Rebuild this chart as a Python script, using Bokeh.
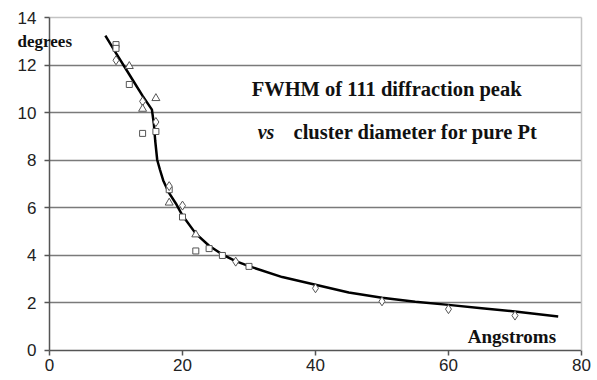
from bokeh.plotting import figure
from bokeh.models import Label, FixedTicker, Range1d, LinearAxis, BoxAnnotation
from bokeh.embed import file_html
from bokeh.resources import INLINE

# Measured FWHM (degrees) vs cluster diameter (Angstroms)
sq_x = [10, 10, 12, 14, 16, 18, 20, 22, 24, 26, 30]
sq_y = [12.86, 12.7, 11.18, 9.12, 9.2, 6.75, 5.6, 4.17, 4.27, 3.98, 3.52]
di_x = [10, 14, 16, 18, 20, 28, 40, 50, 60, 70]
di_y = [12.2, 10.47, 9.6, 6.9, 6.08, 3.72, 2.6, 2.05, 1.72, 1.45]
tr_x = [12, 14, 16, 18, 22]
tr_y = [11.95, 10.15, 10.6, 6.2, 4.86]

# Fitted trend curve
fit_x = [8.4, 10, 12, 14, 15.4, 15.7, 15.9, 16.2, 16.6, 17.1, 17.9, 19, 20, 22, 24, 26, 28, 30, 35, 40, 45, 50, 55, 60, 65, 70, 76.5]
fit_y = [13.24, 12.5, 11.6, 10.7, 10.12, 9.5, 8.8, 8.0, 7.6, 7.14, 6.65, 6.17, 5.66, 4.9, 4.39, 4.02, 3.74, 3.53, 3.07, 2.75, 2.42, 2.2, 2.03, 1.9, 1.76, 1.62, 1.41]

y_ticks = [0, 2, 4, 6, 8, 10, 12, 14]
x_ticks = [0, 20, 40, 60, 80]
grid_ticks = [2, 4, 6, 8, 10, 12]

X0, X1, Y0, Y1 = 0, 80, 0, 14

# The frame covers the whole canvas so that no text is clipped; the axes are
# pinned at the data limits with fixed_location.
p = figure(width=597, height=380, output_backend="svg", toolbar_location=None,
           x_range=Range1d(-7.37, 82.41), y_range=Range1d(-1.284, 14.716),
           x_axis_location=None, y_axis_location=None,
           min_border=0, min_border_left=0, min_border_right=0,
           min_border_top=0, min_border_bottom=0)
p.background_fill_color = "white"
p.border_fill_color = "white"
p.outline_line_color = None

p.xgrid.visible = False
yg = p.ygrid[0]
yg.ticker = FixedTicker(ticks=grid_ticks)
yg.grid_line_color = "#7a7a7a"
yg.grid_line_width = 1.5
if "cross_bounds" in yg.properties():
    yg.cross_bounds = (X0, X1)
else:
    p.add_layout(BoxAnnotation(right=X0, fill_color="white", fill_alpha=1, line_color=None, level="underlay"))
    p.add_layout(BoxAnnotation(left=X1, fill_color="white", fill_alpha=1, line_color=None, level="underlay"))

def style(ax, ticks):
    ax.ticker = FixedTicker(ticks=ticks)
    ax.axis_line_color = "#555555"
    ax.axis_line_width = 1.5
    ax.major_tick_line_color = "#555555"
    ax.major_tick_line_width = 1.5
    ax.major_tick_out = 5
    ax.major_tick_in = 0
    ax.minor_tick_line_color = None
    ax.major_label_text_font = "Liberation Sans"
    ax.major_label_text_font_size = "17px"
    ax.major_label_text_color = "#222222"

xax = LinearAxis(fixed_location=Y0, bounds=(X0, X1))
style(xax, x_ticks)
xax.major_label_standoff = 4
p.add_layout(xax, "below")

yax = LinearAxis(fixed_location=X0, bounds=(Y0, Y1))
style(yax, y_ticks)
yax.major_label_standoff = 8
p.add_layout(yax, "left")

# light frame border on top and right
def border(loc, bounds, side):
    ax = LinearAxis(fixed_location=loc, bounds=bounds, ticker=FixedTicker(ticks=[]),
                    axis_line_color="#c4c4c4", axis_line_width=1.5,
                    major_tick_line_color=None, minor_tick_line_color=None)
    p.add_layout(ax, side)

border(Y1, (X0, X1), "above")
border(X1, (Y0, Y1), "right")

p.line(fit_x, fit_y, line_color="black", line_width=2.5)
p.scatter(sq_x, sq_y, marker="square", size=6, fill_color="white", line_color="#555555", line_width=1)
p.scatter(di_x, di_y, marker="diamond", size=9, fill_color="white", line_color="#555555", line_width=1)
p.scatter(tr_x, tr_y, marker="triangle", size=8, fill_color="white", line_color="#555555", line_width=1)

font = "Liberation Serif"
def lab(x, y, t, size, style="bold"):
    p.add_layout(Label(x=x, y=y, text=t, text_font=font,
                       text_font_size=size, text_font_style=style, text_baseline="middle",
                       text_align="left", text_color="#111111"))

lab(-4.8, 12.99, "degrees", "17px")
lab(30.4, 10.97, "FWHM of 111 diffraction peak", "20.5px")
lab(31.3, 9.2, "vs", "20px", "bold italic")
lab(36.7, 9.2, "cluster diameter for pure Pt", "20.5px")
lab(62.9, 0.57, "Angstroms", "19px")

open("out.html", "w").write(file_html(p, INLINE))
